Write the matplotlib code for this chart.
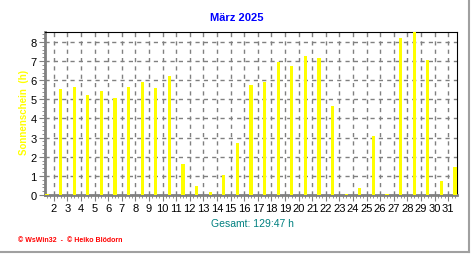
import matplotlib.pyplot as plt
from matplotlib.ticker import MultipleLocator

plt.rcParams["font.family"] = ["Liberation Sans", "DejaVu Sans"]

# Sunshine hours per day, March 2025
days = list(range(1, 32))
sunshine = [0.05, 5.52, 5.67, 5.25, 5.46, 5.08, 5.67, 5.92, 5.6, 6.2,
            1.63, 0.46, 0.16, 1.05, 2.73, 5.76, 5.92, 6.93, 6.76, 7.29,
            7.18, 4.66, 0.05, 0.35, 3.08, 0.03, 8.23, 8.6, 7.07, 0.74,
            1.47]
tick_days = list(range(2, 32))
title = "März 2025"
total = "Gesamt: 129:47 h"

fig = plt.figure(figsize=(4.72, 2.55), dpi=100)
W, H = 472, 255
ax = fig.add_axes([45 / W, 1 - 196 / H, 412 / W, 163 / H])

ax.bar(days, sunshine, width=0.24, color="#ffff00", zorder=3)

ax.set_xlim(0.85, 31.15)
ax.set_ylim(0, 8.52)

# day labels sit between the bars
ax.set_xticks([d - 0.5 for d in tick_days])
ax.set_xticklabels([str(d) for d in tick_days])
ax.xaxis.set_minor_locator(MultipleLocator(0.25))
ax.set_yticks(range(0, 9))
ax.yaxis.set_minor_locator(MultipleLocator(0.2))
ax.tick_params(axis="both", which="major", labelsize=8, length=4,
               color="#808080", pad=2)
ax.tick_params(axis="both", which="minor", length=2, color="#808080")
ax.tick_params(axis="x", pad=2)

# dashed grid: horizontal at whole hours, vertical between days
for y in range(1, 9):
    ax.axhline(y, color="#808080", ls=(0, (3, 3)), lw=1, zorder=1)
for d in range(1, 31):
    ax.axvline(d + 0.5, color="#808080", ls=(0, (3, 3)), lw=1, zorder=1)

ax.spines["left"].set_color("#808080")
ax.spines["left"].set_linewidth(2)
ax.spines["bottom"].set_color("#808080")
ax.spines["bottom"].set_linewidth(2)
ax.spines["top"].set_color("black")
ax.spines["right"].set_color("black")

fig.text(237 / W, 1 - 18 / H, title, color="#0000ff", fontsize=8,
         fontweight="bold", ha="center", va="center")
fig.text(24 / W, 1 - 112 / H, "Sonnenschein  (h)", color="#ffff00",
         fontsize=7, fontweight="bold", rotation=90, ha="center", va="center")
fig.text(252 / W, 1 - 224 / H, total, color="#008080", fontsize=7.5,
         ha="center", va="center")
fig.text(18 / W, 1 - 240.5 / H, "© WsWin32  -  © Heiko Blödorn", color="#ff0000",
         fontsize=5, fontweight="bold", ha="left", va="center")

# grey frame on the right and bottom
fig.add_artist(plt.Line2D([469 / W, 469 / W], [1 - 253 / H, 1], color="#a0a0a0",
                          lw=1.5, transform=fig.transFigure))
fig.add_artist(plt.Line2D([0, 469 / W], [1 - 253 / H, 1 - 253 / H],
                          color="#a0a0a0", lw=1.5, transform=fig.transFigure))

fig.savefig("out.png", dpi=100)
